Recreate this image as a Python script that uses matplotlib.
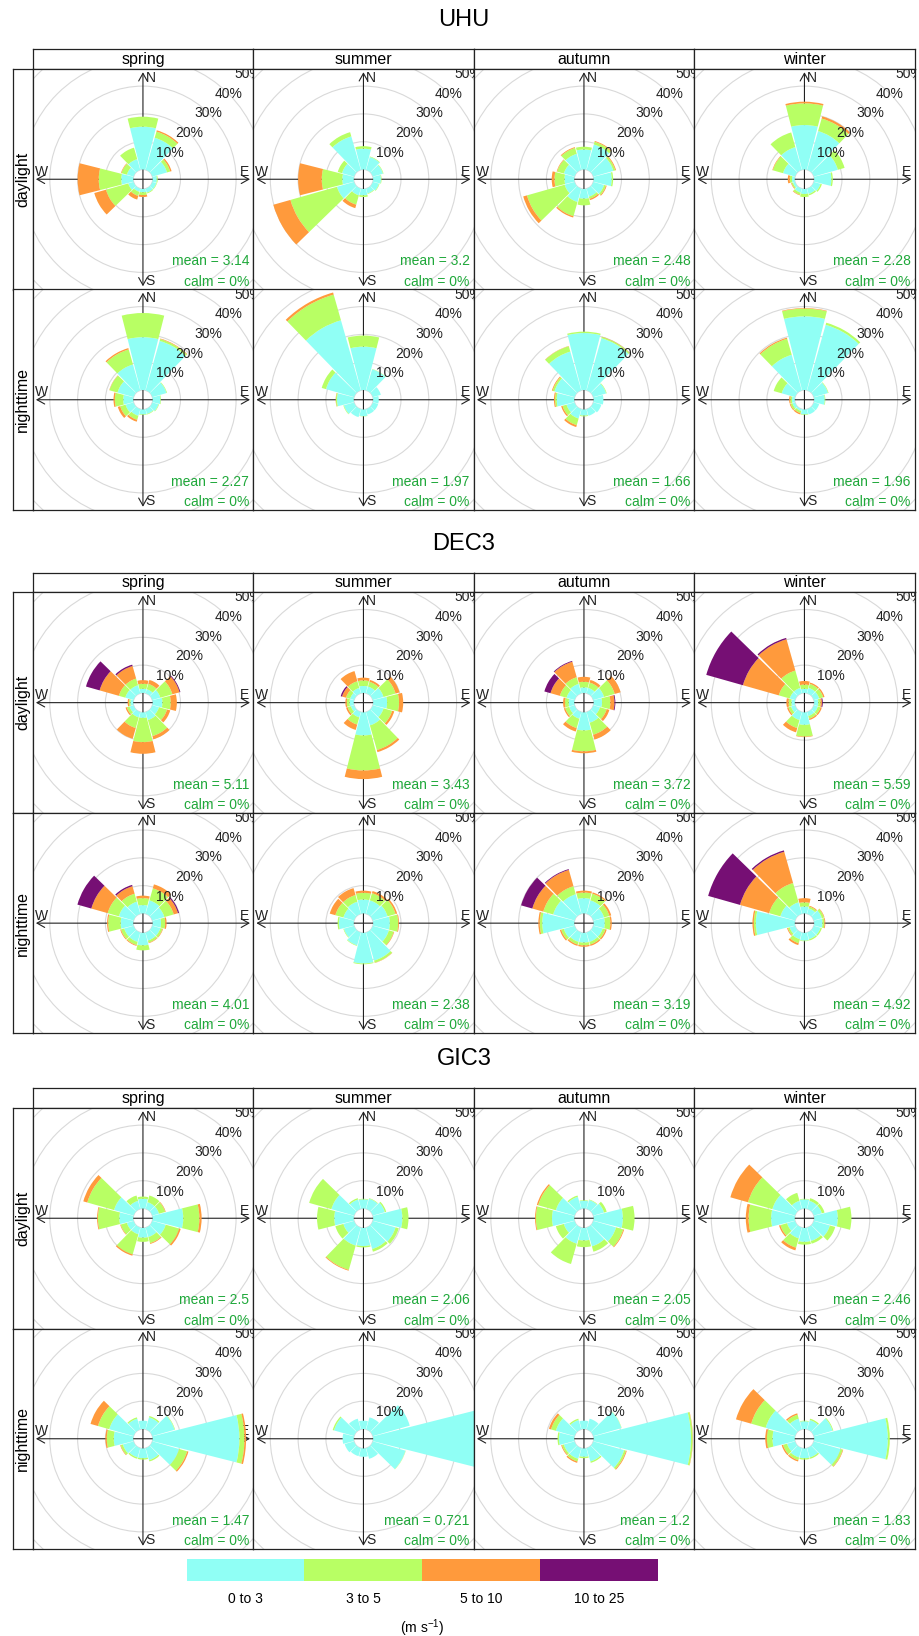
import matplotlib.pyplot as plt
from matplotlib.patches import Wedge, Circle
import numpy as np

plt.rcParams['font.family'] = ['Liberation Sans', 'DejaVu Sans']
plt.rcParams['mathtext.default'] = 'regular'

sites = ['UHU', 'DEC3', 'GIC3']
seasons = ['spring', 'summer', 'autumn', 'winter']
periods = ['daylight', 'nighttime']
directions = [0, 30, 60, 90, 120, 150, 180, 210, 240, 270, 300, 330]
speed_bins = ['0 to 3', '3 to 5', '5 to 10', '10 to 25']
bin_colors = ['#90fff5', '#b8ff64', '#ff9a3c', '#760f74']

# frequency (%) per direction, split by speed bin: [0-3, 3-5, 5-10, 10-25]
uhu_day_spring = [[15.4, 3.6, 0, 0], [12, 2.3, 0.5, 0], [5.5, 1.2, 0.5, 0], [1.5, 0.3, 0, 0],
                  [1.5, 0.2, 0, 0], [1.5, 0.3, 0, 0], [1.2, 1.0, 0.7, 0], [1.2, 1.5, 1.4, 0],
                  [2, 8.3, 4.4, 0], [4.3, 8.1, 7.6, 0], [2.5, 2.0, 0.2, 0], [4, 4.3, 0, 0]]
uhu_day_summer = [[7.5, 0.9, 0, 0], [4.8, 0.2, 0, 0], [3.8, 0.2, 0, 0], [2.8, 0.2, 0, 0],
                  [2.3, 0.2, 0, 0], [1.8, 0.2, 0, 0], [2.3, 0.6, 0, 0], [2.5, 3.5, 1.3, 0],
                  [6.4, 17.4, 6.4, 0], [4.1, 7.4, 8.5, 0], [4.5, 1.6, 0, 0], [12.5, 1.6, 0, 0]]
uhu_day_autumn = [[7.2, 1.0, 0, 0], [9.5, 1.0, 0.3, 0], [7.5, 0.7, 0.3, 0], [6.5, 0.5, 0, 0],
                  [4, 0.7, 0.3, 0], [3, 0.8, 0.5, 0], [3.5, 2.4, 0, 0], [5, 5.3, 0.5, 0],
                  [3.7, 14.1, 1.4, 0], [3.5, 3.6, 1.0, 0], [4, 2.5, 0.2, 0], [6, 2.2, 0.3, 0]]
uhu_day_winter = [[16, 7.8, 0.6, 0], [14.5, 4.7, 0.8, 0], [9, 2.5, 0, 0], [6.2, 0.5, 0, 0],
                  [2.5, 0.5, 0, 0], [2, 0.5, 0, 0], [1.8, 1.1, 0, 0], [1.5, 0.8, 0.2, 0],
                  [0.8, 0.5, 0.2, 0], [1, 0.8, 0.7, 0], [4.5, 3.8, 0.2, 0], [8.5, 5.5, 0, 0]]
uhu_night_spring = [[19, 8.7, 0, 0], [18.5, 0.7, 0.2, 0], [5.3, 0.2, 0, 0], [2.8, 0.2, 0, 0],
                    [2.3, 0.2, 0, 0], [1.8, 0.2, 0, 0], [1.8, 0.2, 0, 0], [2.5, 1.5, 0.7, 0],
                    [3, 2, 0.9, 0], [3.6, 3, 0.5, 0], [6, 3, 0.1, 0], [9.7, 5.6, 0.5, 0]]
uhu_night_summer = [[15.6, 4.0, 0, 0], [7.9, 0.1, 0, 0], [3, 0, 0, 0], [2, 0, 0, 0],
                    [2, 0, 0, 0], [2, 0, 0, 0], [2.4, 0.1, 0, 0], [3, 0, 0, 0],
                    [3.8, 0.2, 0, 0], [6, 0.4, 0.1, 0], [10.5, 1.6, 0, 0], [26.2, 9.6, 0.8, 0]]
uhu_night_autumn = [[20.5, 0.5, 0, 0], [19.5, 0.5, 0.1, 0], [4.8, 0.2, 0, 0], [3.5, 0, 0, 0],
                    [3, 0, 0, 0], [2.5, 0, 0, 0], [2.2, 0.3, 0, 0], [3.5, 2.5, 0.7, 0],
                    [3, 1.5, 0.5, 0], [6.3, 0.6, 0.4, 0], [7.5, 0.7, 0.3, 0], [14.5, 2, 0.1, 0]]
uhu_night_winter = [[26.5, 2.8, 0.2, 0], [24.5, 0.8, 0, 0], [5.3, 0.2, 0, 0], [3.8, 0.2, 0, 0],
                    [2, 0, 0, 0], [2, 0, 0, 0], [1.8, 0.2, 0, 0], [0.7, 0.8, 0.5, 0],
                    [1, 0.7, 0.3, 0], [1, 0.6, 0.4, 0], [5, 3, 0, 0], [13.3, 6, 0.4, 0]]

dec3_day_spring = [[1.5, 1.8, 1.3, 0], [1.5, 2, 1.5, 0], [3, 4.5, 2.7, 0.3], [3.5, 3, 2.2, 0],
                   [2.5, 3, 1.2, 0], [3, 6, 1.2, 0], [2, 8.7, 4.2, 0], [2, 4, 4, 0],
                   [1.5, 1, 0.5, 0], [1, 0.5, 0.5, 0], [3.1, 2.4, 7.2, 5.1], [3, 2.5, 4.7, 0.5]]
dec3_day_summer = [[2.5, 2, 1, 0], [2.5, 1.8, 0.7, 0], [4, 4.5, 1.5, 0], [5, 4.3, 1.5, 0],
                   [4, 3.2, 0.8, 0], [5, 9.2, 0.8, 0], [8.3, 12.6, 3.1, 0], [2, 2.7, 2, 0],
                   [1.2, 1.2, 0.6, 0], [1.5, 1, 0.5, 0], [1.5, 1.5, 1.5, 0.5], [2, 2.5, 3.8, 0]]
dec3_day_autumn = [[2, 2, 1.8, 0], [2, 2, 1, 0], [4, 4, 2.2, 0], [3, 3, 1.5, 0.3],
                   [2.5, 2.5, 1, 0], [4, 4.5, 1.8, 0], [6.5, 7.5, 0.7, 0], [2.5, 3.5, 1.3, 0],
                   [2, 1.5, 0.5, 0], [2, 1.3, 0.7, 0], [3, 2.5, 3.5, 2.3], [3.5, 2.5, 5.8, 0.3]]
dec3_day_winter = [[1.5, 1.5, 1.3, 0], [2, 1.5, 0.5, 0], [2, 1.5, 0.5, 0], [1.5, 0.8, 0.5, 0.3],
                   [1.5, 1, 0.5, 0], [1.5, 1, 0.5, 0], [4.5, 4.2, 0.2, 0], [3, 3, 1.6, 0],
                   [1.5, 1, 0.5, 0], [1.2, 1, 0.8, 0], [2, 4.1, 13.4, 13.7], [2, 6.5, 11.7, 0.5]]
dec3_night_spring = [[3, 2.5, 0.9, 0], [5, 4.5, 1.5, 0], [4.5, 3.5, 1.6, 0.4], [3, 1.5, 0.5, 0],
                     [3, 0.8, 0.2, 0], [3, 0.8, 0.2, 0], [4.5, 1.8, 0, 0], [3.5, 1.2, 0.3, 0],
                     [3.5, 1.2, 0.3, 0], [4.5, 4.5, 0.4, 0], [5.5, 4.2, 6.1, 5.2], [4.5, 3, 2.8, 0.5]]
dec3_night_summer = [[5, 2.4, 0.8, 0], [5, 2.7, 0.8, 0], [5.5, 3, 0.6, 0], [6, 3, 0.3, 0],
                     [6, 1.8, 0.2, 0], [10.5, 0.8, 0.1, 0], [11, 0.3, 0, 0], [4.8, 0.2, 0, 0],
                     [3.8, 0.2, 0, 0], [5.3, 0.5, 0, 0], [4, 3, 2.1, 0], [4.5, 2.5, 2.6, 0]]
dec3_night_autumn = [[5.5, 2, 0.7, 0], [5, 2.5, 0.5, 0], [4, 2, 0.7, 0], [4, 2, 0.5, 0],
                     [3.5, 1, 0.5, 0], [3.5, 1, 0.5, 0], [3.5, 1, 0.5, 0], [3.5, 1, 0.5, 0],
                     [4, 1, 0.5, 0], [11.5, 0.9, 0.5, 0], [8, 3.7, 4.1, 4.2], [7.3, 3, 6.1, 0.3]]
dec3_night_winter = [[2.5, 1.5, 1.5, 0], [2, 0.7, 0.3, 0], [3, 0.8, 0.2, 0], [3, 0.7, 0.3, 0],
                     [2.5, 0.5, 0, 0], [2.5, 0.5, 0, 0], [2.8, 0.2, 0, 0], [2.5, 1.5, 0.7, 0],
                     [2, 0.7, 0.3, 0], [14, 0.7, 0.5, 0], [5.5, 4.2, 10.9, 11.9], [4.3, 7.2, 11.7, 0.5]]

gic3_day_spring = [[3.5, 0.8, 0, 0], [2.5, 2.5, 0, 0], [2.5, 2.3, 0.2, 0], [11, 5.8, 0.8, 0],
                   [5, 5, 0.6, 0], [3.5, 2.3, 0.3, 0], [3.5, 1.5, 0, 0], [2.5, 7.5, 0.5, 0],
                   [2.5, 2.3, 0.2, 0], [5, 7.7, 0.3, 0], [7.3, 10, 1.5, 0], [3, 2, 0, 0]]
gic3_day_summer = [[3.3, 0.2, 0, 0], [3.8, 0.2, 0, 0], [4.5, 0.5, 0, 0], [10.5, 2.2, 0, 0],
                   [8.5, 1.2, 0, 0], [8, 1, 0, 0], [6.5, 0.5, 0, 0], [6.7, 9.1, 0.3, 0],
                   [4, 3, 0, 0], [7, 6.2, 0, 0], [8.5, 8.3, 0, 0], [3.5, 0.5, 0, 0]]
gic3_day_autumn = [[2.8, 0.2, 0, 0], [3.3, 0.2, 0, 0], [4, 1, 0, 0], [10.5, 4.2, 0, 0],
                   [8.5, 2.7, 0.3, 0], [7, 2, 0, 0], [4.5, 2.4, 0, 0], [6, 7.6, 0, 0],
                   [4, 3, 0, 0], [8, 5.8, 0.3, 0], [7, 6.6, 0.5, 0], [4.5, 0.5, 0, 0]]
gic3_day_winter = [[3.3, 0.2, 0, 0], [3, 1, 0, 0], [3, 1, 0, 0], [8.5, 4.9, 0, 0],
                   [6, 2, 0, 0], [5, 1, 0, 0], [5, 1, 0, 0], [4, 3.5, 1, 0],
                   [3, 2.5, 0.5, 0], [8.5, 8.1, 1, 0], [8.5, 9.1, 6.6, 0], [3, 3, 0, 0]]
gic3_night_spring = [[3, 0, 0, 0], [4.5, 0.5, 0, 0], [8.3, 0.2, 0, 0], [31.2, 1.8, 0.6, 0],
                     [10, 3, 0.5, 0], [4.5, 0.5, 0, 0], [3.5, 0.5, 0, 0], [3.5, 0.5, 0, 0],
                     [4, 0.8, 0.2, 0], [7, 2.5, 0.5, 0], [9.1, 4.2, 2.8, 0], [4, 0.5, 0, 0]]
gic3_night_summer = [[3, 0, 0, 0], [4.5, 0, 0, 0], [13.8, 0, 0, 0], [42, 0.5, 0, 0],
                     [12.2, 0.1, 0, 0], [4, 0, 0, 0], [3, 0, 0, 0], [3, 0, 0, 0],
                     [3.5, 0, 0, 0], [4, 0, 0, 0], [7.5, 0.5, 0, 0], [4, 0, 0, 0]]
gic3_night_autumn = [[3, 0, 0, 0], [4, 0, 0, 0], [10.5, 0.1, 0, 0], [35, 0.6, 0.1, 0],
                     [11.5, 0.7, 0.3, 0], [5, 0.5, 0, 0], [3, 0.5, 0, 0], [4, 1, 0.5, 0],
                     [4, 0.7, 0.3, 0], [5.5, 0.5, 0, 0], [7, 1.8, 0.8, 0], [3.5, 0.5, 0, 0]]
gic3_night_winter = [[2.8, 0.2, 0, 0], [3.5, 0.5, 0, 0], [7, 0.3, 0, 0], [26.5, 0.7, 0, 0],
                     [10, 0.8, 0.2, 0], [3.5, 0.5, 0, 0], [3.5, 0.5, 0, 0], [3.5, 1, 0.5, 0],
                     [3, 1.5, 0.5, 0], [8, 2, 0.6, 0], [11, 5.4, 5.7, 0], [4, 1.5, 0.5, 0]]

# mean wind speed per season (spring, summer, autumn, winter)
uhu_mean_day = [3.14, 3.2, 2.48, 2.28]
uhu_mean_night = [2.27, 1.97, 1.66, 1.96]
dec3_mean_day = [5.11, 3.43, 3.72, 5.59]
dec3_mean_night = [4.01, 2.38, 3.19, 4.92]
gic3_mean_day = [2.5, 2.06, 2.05, 2.46]
gic3_mean_night = [1.47, 0.721, 1.2, 1.83]
calm = 0

roses = {
    'UHU': [[uhu_day_spring, uhu_day_summer, uhu_day_autumn, uhu_day_winter],
            [uhu_night_spring, uhu_night_summer, uhu_night_autumn, uhu_night_winter]],
    'DEC3': [[dec3_day_spring, dec3_day_summer, dec3_day_autumn, dec3_day_winter],
             [dec3_night_spring, dec3_night_summer, dec3_night_autumn, dec3_night_winter]],
    'GIC3': [[gic3_day_spring, gic3_day_summer, gic3_day_autumn, gic3_day_winter],
             [gic3_night_spring, gic3_night_summer, gic3_night_autumn, gic3_night_winter]],
}
means = {'UHU': [uhu_mean_day, uhu_mean_night],
         'DEC3': [dec3_mean_day, dec3_mean_night],
         'GIC3': [gic3_mean_day, gic3_mean_night]}

max_freq = 35.0
off = max_freq * 0.1          # hole in the middle
lim = 1.03 * (max_freq + off)
ax_len = max_freq + off
half = 14.2                    # half width of a sector in degrees
green = '#1fa83a'

W, H = 919, 1636
fig = plt.figure(figsize=(W / 100, H / 100), dpi=100)


def add_px_axes(x, y, w, h):
    return fig.add_axes([x / W, 1 - (y + h) / H, w / W, h / H])


def boxed(ax):
    ax.set_xticks([])
    ax.set_yticks([])
    for s in ax.spines.values():
        s.set_linewidth(0.9)
        s.set_color('#222222')


def draw_rose(ax, freqs, mean):
    ax.set_xlim(-lim, lim)
    ax.set_ylim(-lim, lim)
    boxed(ax)
    for k in range(6):
        ax.add_patch(Circle((0, 0), off + 10 * k, fill=False, ec='#d9d9d9', lw=0.8, zorder=0.5))
    arrow = dict(arrowstyle='<->,head_length=0.5,head_width=0.28', lw=0.8, color='#222222',
                 shrinkA=0, shrinkB=0, mutation_scale=11)
    ax.annotate('', xy=(0, ax_len), xytext=(0, -ax_len), arrowprops=arrow, zorder=1)
    ax.annotate('', xy=(ax_len, 0), xytext=(-ax_len, 0), arrowprops=arrow, zorder=1)
    s = 0.95 * ax_len
    t = 0.07 * ax_len
    for lab, x, y in [('N', t, s), ('S', t, -s), ('E', s, t), ('W', -s, t)]:
        ax.text(x, y, lab, ha='center', va='center', fontsize=10, color='#222222', zorder=1.5)
    for d, row in zip(directions, freqs):
        cum = np.concatenate([[0], np.cumsum(row)])
        for b in range(4):
            if row[b] <= 0:
                continue
            r_out = off + cum[b + 1]
            ax.add_patch(Wedge((0, 0), r_out, 90 - d - half, 90 - d + half,
                               width=row[b], fc=bin_colors[b], ec='none', zorder=2))
    for k in range(1, 6):
        r = off + 10 * k
        ax.text(r * np.sin(np.pi / 4), r * np.cos(np.pi / 4), f'{10 * k}%', ha='center',
                va='center', fontsize=10, color='#222222', zorder=3, clip_on=True)
    ax.text(0.965 * lim, -29.5, f'mean = {mean:g}', ha='right', va='center',
            fontsize=10, color=green, zorder=3)
    ax.text(0.965 * lim, -36.8, f'calm = {calm}%', ha='right', va='center',
            fontsize=10, color=green, zorder=3)


strip_h = 19.7
panel = 220.5
left0 = 32.7
group_top = [49.3, 572.7, 1088.3]

for g, site in enumerate(sites):
    top = group_top[g]
    fig.text((13 + left0 + 4 * panel) / 2 / W, 1 - (top - 29) / H, site,
             ha='center', va='center', fontsize=17)
    for c, season in enumerate(seasons):
        sax = add_px_axes(left0 + c * panel, top, panel, strip_h)
        boxed(sax)
        sax.text(0.5, 0.5, season, ha='center', va='center', fontsize=11.5,
                 transform=sax.transAxes)
    for r, period in enumerate(periods):
        y0 = top + strip_h + r * panel
        rax = add_px_axes(13, y0, left0 - 13, panel)
        boxed(rax)
        rax.text(0.5, 0.5, period, ha='center', va='center', rotation=90,
                 fontsize=11.5, transform=rax.transAxes)
        for c in range(4):
            ax = add_px_axes(left0 + c * panel, y0, panel, panel)
            draw_rose(ax, roses[site][r][c], means[site][r][c])

# speed key
kax = add_px_axes(186.7, 1559.3, 471, 21.7)
kax.bar(np.arange(4), 1, width=1.0, align='edge', color=bin_colors)
kax.set_xlim(0, 4)
kax.set_ylim(0, 1)
kax.set_yticks([])
kax.set_xticks(np.arange(4) + 0.5)
kax.set_xticklabels(speed_bins, fontsize=10)
kax.tick_params(axis='x', length=0, pad=8)
for s in kax.spines.values():
    s.set_visible(False)
kax.set_xlabel('(m s$^{-1}$)', fontsize=10, labelpad=8)

fig.savefig('out.png', dpi=100)
